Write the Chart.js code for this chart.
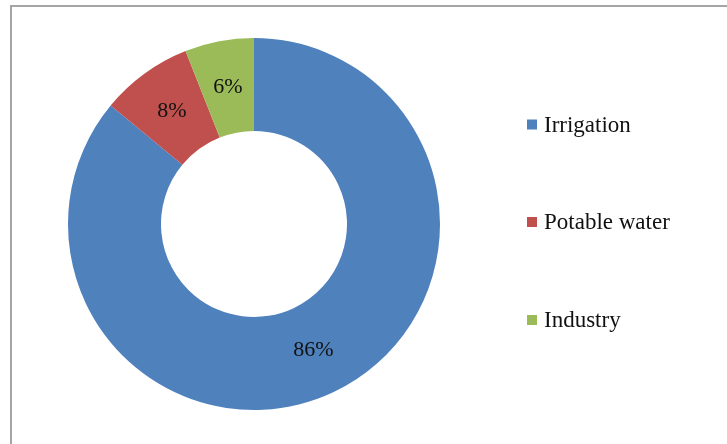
<!DOCTYPE html>
<html>
<head>
<meta charset="utf-8">
<script src="https://cdn.jsdelivr.net/npm/chart.js@4/dist/chart.umd.min.js"></script>
<style>
  html, body { margin: 0; padding: 0; background: #ffffff; }
  #wrap { position: relative; width: 727px; height: 444px; overflow: hidden; }
  #frame { position: absolute; left: 10px; top: 5px; width: 740px; height: 460px; border: 2px solid #a5a5a5; box-sizing: border-box; }
  canvas { position: absolute; left: 0; top: 0; }
</style>
</head>
<body>
<div id="wrap">
  <div id="frame"></div>
  <canvas id="c" width="727" height="444"></canvas>
</div>
<script>
const categories = ["Irrigation", "Potable water", "Industry"];
const shares = [86, 8, 6];
const sliceLabels = ["86%", "8%", "6%"];
const colors = ["#4F81BD", "#C0504D", "#9BBB59"];

const FONT = "'Liberation Serif', 'Times New Roman', serif";

const labelPlugin = {
  id: 'sliceLabels',
  afterDatasetsDraw(chart) {
    const ctx = chart.ctx;
    const meta = chart.getDatasetMeta(0);
    ctx.save();
    ctx.font = "22px " + FONT;
    ctx.fillStyle = "#111111";
    ctx.textAlign = "center";
    ctx.textBaseline = "middle";
    meta.data.forEach((arc, i) => {
      const p = arc.tooltipPosition();
      ctx.fillText(sliceLabels[i], p.x, p.y);
    });
    ctx.restore();
  }
};

const legendPlugin = {
  id: 'sideLegend',
  afterDraw(chart) {
    const ctx = chart.ctx;
    const rows = [124.5, 222, 320];
    ctx.save();
    ctx.font = "23px " + FONT;
    ctx.textBaseline = "middle";
    ctx.textAlign = "left";
    chart.data.labels.forEach((lab, i) => {
      const y = rows[i];
      ctx.fillStyle = chart.data.datasets[0].backgroundColor[i];
      ctx.fillRect(527, y - 5, 10, 10);
      ctx.fillStyle = "#111111";
      ctx.fillText(lab, 544, y + 1);
    });
    ctx.restore();
  }
};

new Chart(document.getElementById('c'), {
  type: 'doughnut',
  data: {
    labels: categories,
    datasets: [{
      data: shares,
      backgroundColor: colors,
      borderWidth: 0
    }]
  },
  options: {
    responsive: false,
    animation: false,
    cutout: '50%',
    layout: { padding: { left: 68, right: 287, top: 38, bottom: 34 } },
    plugins: {
      legend: { display: false },
      tooltip: { enabled: false }
    }
  },
  plugins: [labelPlugin, legendPlugin]
});
</script>
</body>
</html>
